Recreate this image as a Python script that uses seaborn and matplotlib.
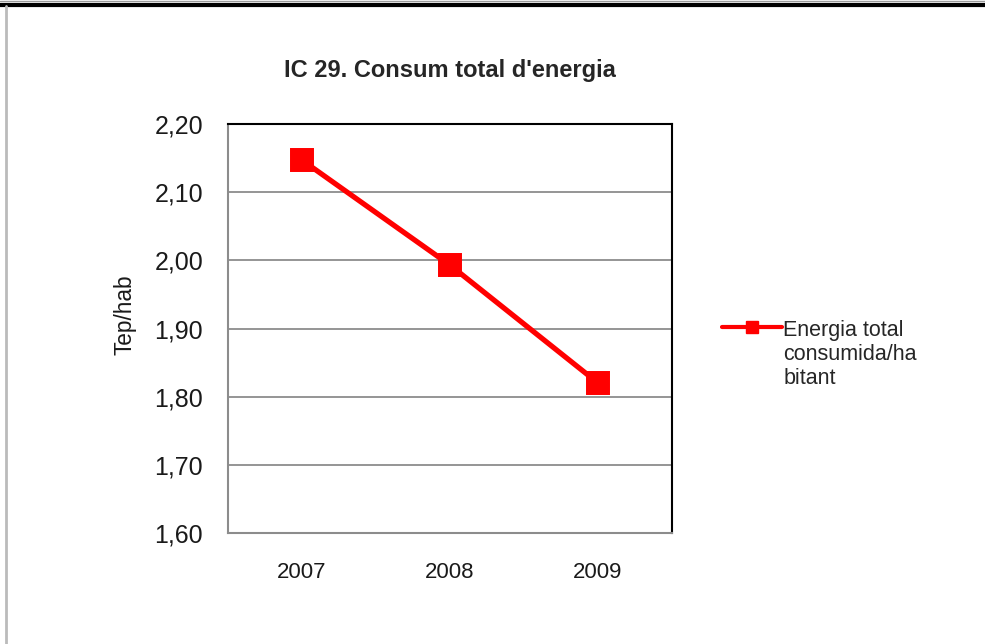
import matplotlib
matplotlib.use('Agg')
import matplotlib.pyplot as plt
import seaborn as sns
from matplotlib.lines import Line2D
from matplotlib.ticker import FuncFormatter

anys = ['2007', '2008', '2009']
consum = [2.147, 1.993, 1.820]
serie = "Energia total\nconsumida/ha\nbitant"

sns.set_style('white')
plt.rcParams['font.family'] = ['Liberation Sans', 'DejaVu Sans']

fig = plt.figure(figsize=(9.85, 6.44), dpi=100)
ax = fig.add_axes([0.2315, 0.1724, 0.4508, 0.635])

sns.pointplot(x=anys, y=consum, color='#ff0000', markers='s', markersize=14.5,
              linewidth=3.8, ax=ax)

ax.set_ylim(1.60, 2.20)
ax.set_yticks([1.60, 1.70, 1.80, 1.90, 2.00, 2.10, 2.20])
ax.yaxis.set_major_formatter(FuncFormatter(lambda v, p: ('%.2f' % v).replace('.', ',')))
ax.set_xlim(-0.5, 2.5)
ax.yaxis.grid(True, color='#8c8c8c', linewidth=1.3)
ax.set_axisbelow(True)
for s in ['top', 'right']:
    ax.spines[s].set_color('black')
    ax.spines[s].set_linewidth(1.5)
for s in ['left', 'bottom']:
    ax.spines[s].set_color('#8c8c8c')
    ax.spines[s].set_linewidth(1.5)
ax.tick_params(axis='y', labelsize=18, length=0, pad=18, colors='#1a1a1a')
ax.tick_params(axis='x', labelsize=16, length=0, pad=21, colors='#1a1a1a')
ax.set_xlabel('')
ax.set_ylabel('Tep/hab', fontsize=16.3, labelpad=13, color='#1a1a1a')
ax.yaxis.label.set_y(0.535)
ax.set_title("IC 29. Consum total d'energia", fontsize=17, fontweight='bold', pad=34)

handle = Line2D([], [], color='#ff0000', marker='s', markersize=8, linewidth=3)
leg = ax.legend(handles=[handle], labels=[serie], loc='upper left',
                bbox_to_anchor=(1.112, 0.522), frameon=False, fontsize=15.5,
                handlelength=2.8, handletextpad=0.05, borderpad=0, borderaxespad=0)
leg.get_texts()[0].set_linespacing(1.2)
# la marca de la llegenda va a la primera línia del text
for col in leg._legend_handle_box.get_children():
    for item in col.get_children():
        item.align = 'top'

# marc de la cel·la del full de càlcul
fig.add_artist(Line2D([0, 1], [0.9930, 0.9930], transform=fig.transFigure, color='black', linewidth=3))
fig.add_artist(Line2D([0.006, 0.006], [0, 0.99], transform=fig.transFigure, color='#bbbbbb', linewidth=2))
fig.add_artist(Line2D([0, 1], [0.9990, 0.9990], transform=fig.transFigure, color='#999999', linewidth=1))

fig.savefig('out.png', dpi=100)
